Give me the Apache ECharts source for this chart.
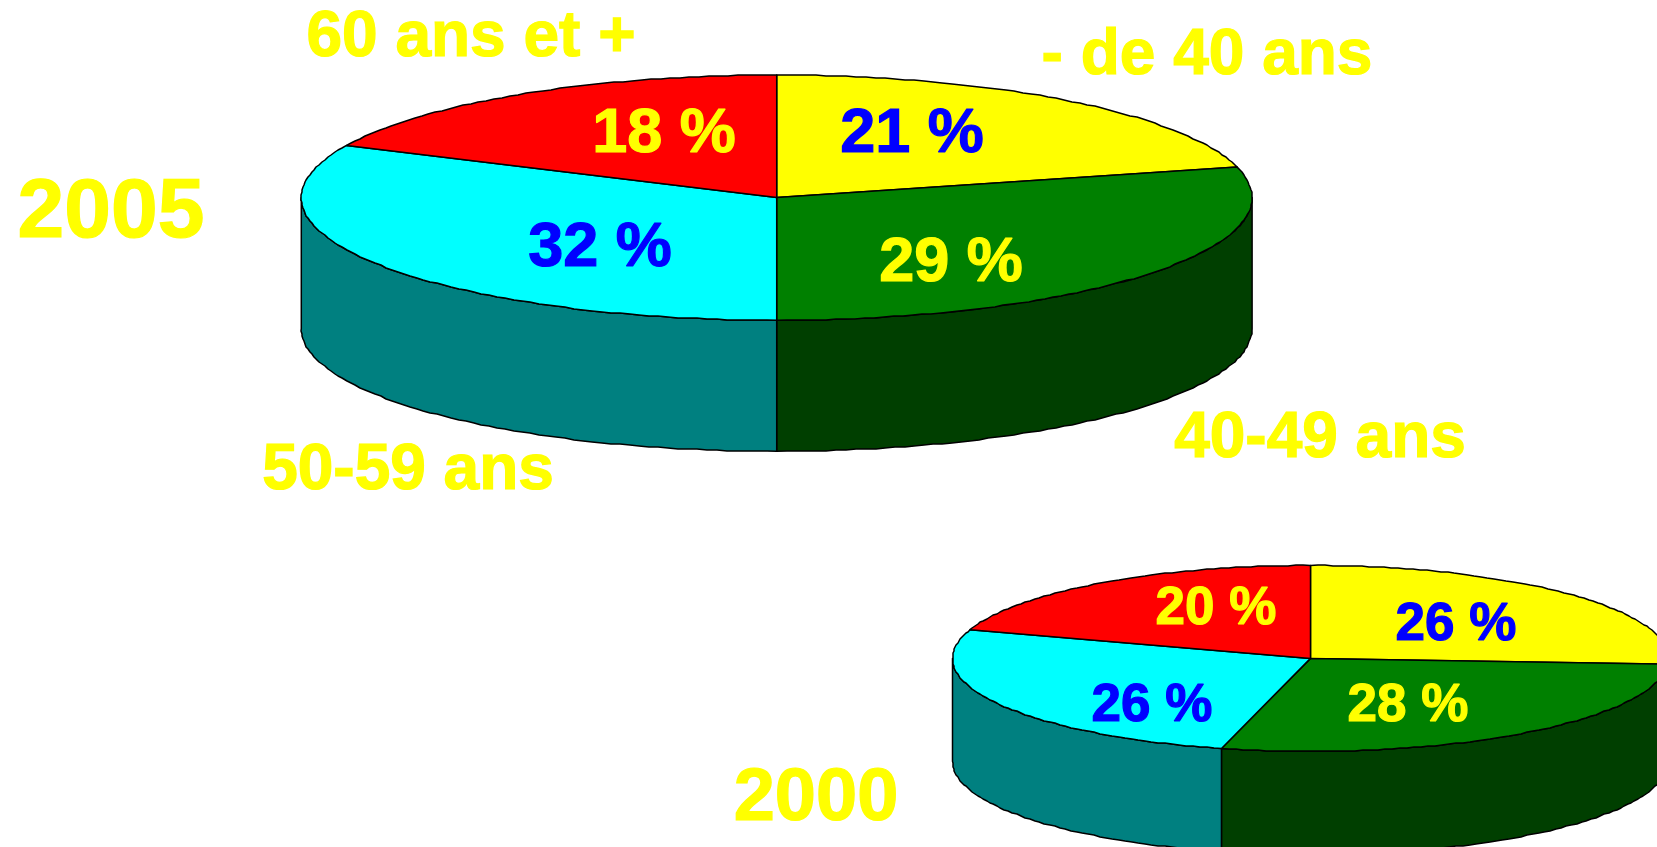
<!DOCTYPE html>
<html>
<head>
<meta charset="utf-8">
<title>Répartition par âge</title>
<script src="https://cdn.jsdelivr.net/npm/echarts@6/dist/echarts.min.js"></script>
<style>
html, body { margin: 0; padding: 0; background: #fff; overflow: hidden; }
#main { width: 1657px; height: 847px; }
</style>
</head>
<body>
<div id="main"></div>
<script>
// slices run clockwise from 12 o'clock
const categories = ['- de 40 ans', '40-49 ans', '50-59 ans', '60 ans et +'];
const values2005 = [21, 29, 32, 18];
const values2000 = [26, 28, 26, 20];
const topColors = ['#FFFF00', '#008000', '#00FFFF', '#FF0000'];
const sideColors = ['#808000', '#003F00', '#008080', '#800000'];
const labelColors = ['#0000FF', '#FFFF00', '#0000FF', '#FFFF00'];

const pies = [
	{
		values: values2005, cx: 776.7, cy: 197.6, rx: 475.4, ry: 122.6, depth: 131, fontSize: 63,
		labelPos: [[912, 135], [951, 264], [600, 249], [664, 135]]
	},
	{
		values: values2000, cx: 1310.5, cy: 658.4, rx: 358, ry: 93, depth: 103, fontSize: 53,
		labelPos: [[1456, 625], [1408, 706], [1152, 706], [1216, 609]]
	}
];

const titles = [
	{ text: '2005', x: 111, y: 214, size: 84 },
	{ text: '2000', x: 816, y: 800, size: 74 }
];
const categoryPos = [[1207, 56], [1320, 439], [408, 471], [471, 38]];

// the original outline is slightly stepped, so points are snapped to a grid
const snap = v => Math.round(v);

function arcPoints(pie, a0, a1, dy) {
	const pts = [];
	const n = Math.max(2, Math.ceil((a1 - a0) / 1.2));
	for (let i = 0; i <= n; i++) {
		const a = (a0 + (a1 - a0) * i / n) * Math.PI / 180;
		const onEnd = i === 0 || i === n;
		const x = pie.cx + Math.sin(a) * pie.rx;
		const y = pie.cy - Math.cos(a) * pie.ry + dy;
		pts.push(onEnd ? [x, y] : [snap(x), snap(y)]);
	}
	return pts;
}

function makeSeries(pie) {
	const total = pie.values.reduce((s, v) => s + v, 0);
	let sum = 0;
	const data = pie.values.map((v, i) => {
		const row = [i, v, sum];
		sum += v;
		return row;
	});
	return {
		type: 'custom',
		coordinateSystem: 'none',
		silent: true,
		animation: false,
		clip: false,
		data: data,
		renderItem: function (params, api) {
			const i = api.value(0);
			const start = api.value(2) / total * 360;
			const end = (api.value(2) + api.value(1)) / total * 360;
			const children = [];
			const w0 = Math.max(start, 90);
			const w1 = Math.min(end, 270);
			if (w1 > w0) {
				const upper = arcPoints(pie, w0, w1, 0);
				const lower = arcPoints(pie, w0, w1, pie.depth).reverse();
				children.push({
					type: 'polygon',
					shape: { points: upper.concat(lower) },
					style: { fill: sideColors[i], stroke: '#000', lineWidth: 1.5, lineJoin: 'round' }
				});
			}
			children.push({
				type: 'polygon',
				shape: { points: [[pie.cx, pie.cy]].concat(arcPoints(pie, start, end, 0)) },
				style: { fill: topColors[i], stroke: '#000', lineWidth: 1.5, lineJoin: 'round' }
			});
			children.push({
				type: 'text',
				z2: 10,
				style: {
					text: api.value(1) + ' %',
					x: pie.labelPos[i][0],
					y: pie.labelPos[i][1],
					fill: labelColors[i],
					stroke: labelColors[i],
					lineWidth: 1.2,
					align: 'center',
					verticalAlign: 'middle',
					font: 'bold ' + pie.fontSize + 'px "Liberation Sans", Arial, sans-serif'
				}
			});
			return { type: 'group', children: children };
		}
	};
}

var chartDom = document.getElementById('main');
var myChart = echarts.init(chartDom, null, { renderer: 'canvas' });

const yellowText = (text, x, y, size) => ({
	type: 'text',
	z: 20,
	style: {
		text: text,
		x: x,
		y: y,
		fill: '#FFFF00',
		stroke: '#FFFF00',
		lineWidth: 1.2,
		align: 'center',
		verticalAlign: 'middle',
		font: 'bold ' + size + 'px "Liberation Sans", Arial, sans-serif'
	}
});

var option = {
	backgroundColor: '#fff',
	animation: false,
	series: pies.map(makeSeries),
	graphic: {
		elements: titles.map(t => yellowText(t.text, t.x, t.y, t.size)).concat(
			categories.map((c, i) => yellowText(c, categoryPos[i][0], categoryPos[i][1], 64))
		)
	}
};

option && myChart.setOption(option);
</script>
</body>
</html>
